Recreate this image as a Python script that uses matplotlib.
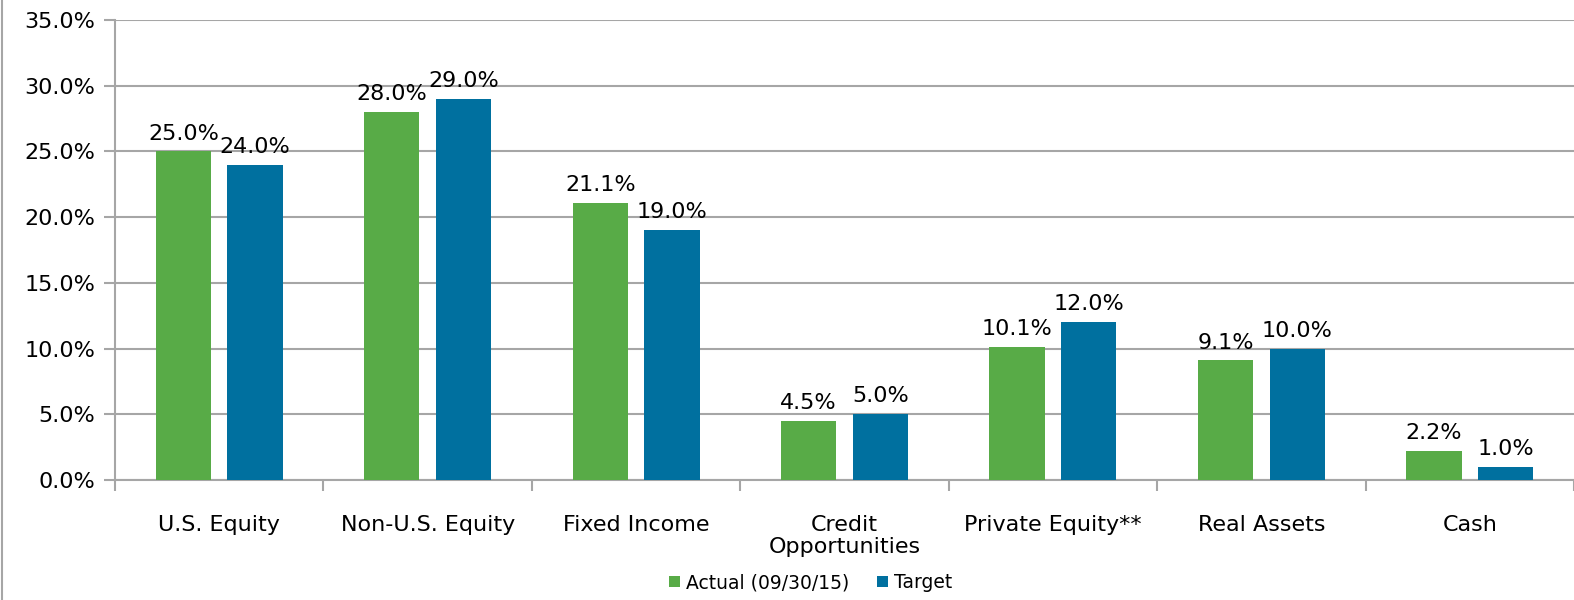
import matplotlib.pyplot as plt
import matplotlib.lines as mlines
import numpy as np

categories = ["U.S. Equity", "Non-U.S. Equity", "Fixed Income", "Credit\nOpportunities",
              "Private Equity**", "Real Assets", "Cash"]
actual = [25.0, 28.0, 21.1, 4.5, 10.1, 9.1, 2.2]
target = [24.0, 29.0, 19.0, 5.0, 12.0, 10.0, 1.0]
yticks = [0, 5, 10, 15, 20, 25, 30, 35]

green = "#58ab47"
blue = "#00709f"
grid_c = "#a6a6a6"

plt.rcParams["font.family"] = ["Verdana", "DejaVu Sans"]

fig = plt.figure(figsize=(15.74, 6.0), dpi=100)
ax = fig.add_axes([115 / 1574, 120 / 600, 1459 / 1574, 460 / 600])

x = np.arange(len(categories))
w = 0.265
off = 0.172
ax.bar(x - off, actual, w, color=green, zorder=3, label="Actual (09/30/15)")
ax.bar(x + off, target, w, color=blue, zorder=3, label="Target")

for xi, a, t in zip(x, actual, target):
    ax.text(xi - off, a + 0.6, f"{a:.1f}%", ha="center", va="bottom", fontsize=16)
    ax.text(xi + off, t + 0.6, f"{t:.1f}%", ha="center", va="bottom", fontsize=16)

ax.set_xlim(-0.5, len(categories) - 0.5)
ax.set_ylim(0, 35)
ax.set_yticks(yticks)
ax.set_yticklabels([f"{v:.1f}%" for v in yticks], fontsize=16)
ax.yaxis.grid(True, color=grid_c, linewidth=1.5, zorder=0)
ax.tick_params(axis="y", length=8, width=1.5, color=grid_c, pad=6)

# category ticks sit between the groups
ax.set_xticks(np.arange(-0.5, len(categories), 1.0))
ax.set_xticklabels([])
ax.set_xticks(x, minor=True)
ax.set_xticklabels(categories, minor=True, fontsize=16, linespacing=1.15)
ax.tick_params(axis="x", which="major", length=8, width=1.5, color=grid_c)
ax.tick_params(axis="x", which="minor", length=0, pad=25)

for s in ["top", "right"]:
    ax.spines[s].set_visible(False)
for s in ["left", "bottom"]:
    ax.spines[s].set_color(grid_c)
    ax.spines[s].set_linewidth(1.5)

fig.legend(loc="lower center", bbox_to_anchor=(0.515, -0.015), ncol=2, frameon=False,
           fontsize=13.5, handlelength=0.6, handleheight=0.6, handletextpad=0.3,
           columnspacing=1.5)

fig.add_artist(mlines.Line2D([2 / 1574, 2 / 1574], [0, 1], color=grid_c, linewidth=1.5))

fig.savefig("out.png", dpi=100)
